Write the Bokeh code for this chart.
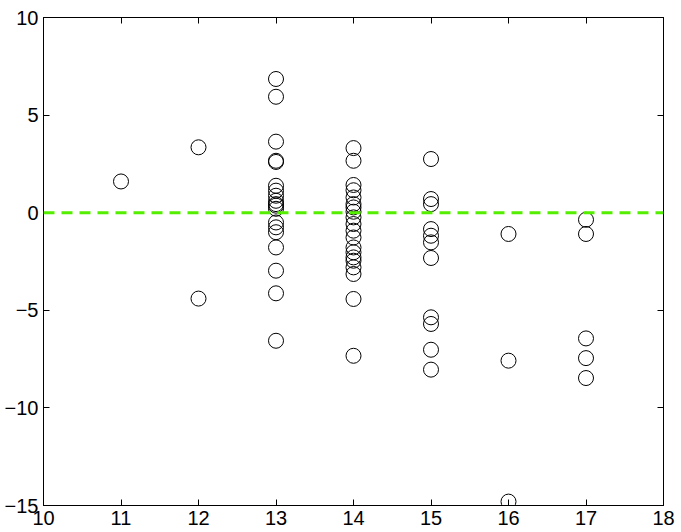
from bokeh.plotting import figure
from bokeh.models import Range1d, LinearAxis, FixedTicker, Span, ColumnDataSource, CustomJSTickFormatter
from bokeh.embed import file_html
from bokeh.resources import INLINE

# data: groups (x) and residual values (y)
x11 = [1.6]
x12 = [3.35, -4.4]
x13 = [6.85, 5.94, 3.64, 2.66, 2.6, 1.38, 1.13, 0.87, 0.61, 0.36, 0.44, 0.2,
       -0.5, -0.75, -1.0, -1.78, -2.97, -4.13, -6.56]
x14 = [3.31, 2.66, 1.42, 1.15, 0.78, 0.44, 0.27, 0.05, -0.24, -0.58, -0.92,
       -1.27, -1.78, -2.03, -2.29, -2.46, -2.8, -3.14, -4.42, -7.33]
x15 = [2.75, 0.7, 0.44, -0.84, -1.18, -1.52, -2.32, -5.36, -5.7, -7.02, -8.04]
x16 = [-1.09, -7.58, -14.8]
x17 = [-0.36, -1.09, -6.44, -7.45, -8.47]
groups = [11, 12, 13, 14, 15, 16, 17]
values = [x11, x12, x13, x14, x15, x16, x17]

x_ticks = [10, 11, 12, 13, 14, 15, 16, 17, 18]
y_ticks = [-15, -10, -5, 0, 5, 10]
ref_level = 0

xs, ys = [], []
for g, vals in zip(groups, values):
    for v in vals:
        xs.append(g)
        ys.append(v)
src = ColumnDataSource(dict(x=xs, y=ys))

p = figure(width=681, height=532, output_backend="svg", toolbar_location=None,
           x_range=Range1d(10, 18), y_range=Range1d(-15, 10),
           min_border_left=43, min_border_right=18, min_border_top=17, min_border_bottom=27)
p.grid.visible = False
p.outline_line_color = "black"
p.outline_line_width = 1
p.background_fill_color = "white"
p.border_fill_color = "white"

fmt = CustomJSTickFormatter(code="return tick < 0 ? '\u2212' + Math.abs(tick) : '' + tick;")
blank = CustomJSTickFormatter(code="return '';")

def style(ax, ticks, show_labels=True):
    ax.ticker = FixedTicker(ticks=ticks)
    ax.formatter = fmt if show_labels else blank
    ax.major_tick_in = 6
    ax.major_tick_out = 0
    ax.minor_tick_line_color = None
    ax.axis_line_color = "black"
    ax.major_tick_line_color = "black"
    ax.major_label_text_font = "Liberation Sans"
    ax.major_label_text_font_size = "20px"
    ax.major_label_text_color = "black"
    ax.major_label_standoff = 5 if show_labels else 0

style(p.xaxis[0], x_ticks)
style(p.yaxis[0], y_ticks)
p.yaxis[0].major_label_standoff = 5

top = LinearAxis()
style(top, x_ticks, False)
p.add_layout(top, "above")
right = LinearAxis()
style(right, y_ticks, False)
p.add_layout(right, "right")

p.add_layout(Span(location=ref_level, dimension="width", line_color="#55ee00",
                  line_width=3, line_dash="11 7"))

p.scatter("x", "y", source=src, marker="circle", size=15, fill_color=None,
          line_color="black", line_width=1)

open("out.html", "w").write(file_html(p, INLINE))
